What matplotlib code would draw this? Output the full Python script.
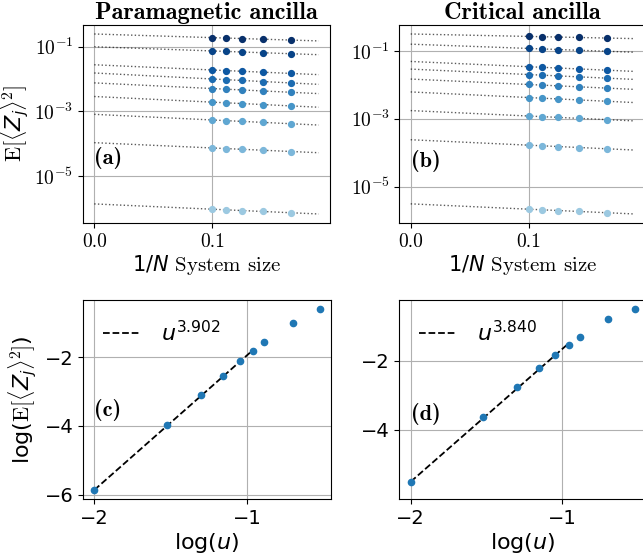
import matplotlib
matplotlib.use("Agg")
import matplotlib.pyplot as plt
import numpy as np

# system sizes N = 10, 9, 8, 7, 6
inv_N = np.array([1/10, 1/9, 1/8, 1/7, 1/6])
u_vals = np.array([0.01, 0.03, 0.05, 0.07, 0.09, 0.11, 0.13, 0.2, 0.3])

# log10 E[<Z_j>^2] per u (rows) and 1/N (columns)
para_log = np.array([
    [-6.018, -6.036, -6.059, -6.088, -6.127],
    [-4.128, -4.146, -4.169, -4.198, -4.237],
    [-3.264, -3.283, -3.308, -3.339, -3.380],
    [-2.714, -2.733, -2.758, -2.789, -2.830],
    [-2.294, -2.313, -2.338, -2.369, -2.410],
    [-1.999, -2.019, -2.045, -2.078, -2.122],
    [-1.721, -1.739, -1.761, -1.790, -1.828],
    [-1.134, -1.148, -1.166, -1.189, -1.220],
    [-0.723, -0.736, -0.751, -0.772, -0.798],
])
crit_log = np.array([
    [-5.668, -5.686, -5.708, -5.736, -5.773],
    [-3.780, -3.798, -3.820, -3.849, -3.887],
    [-2.920, -2.938, -2.960, -2.989, -3.027],
    [-2.375, -2.393, -2.416, -2.446, -2.485],
    [-1.990, -2.008, -2.030, -2.059, -2.097],
    [-1.696, -1.714, -1.736, -1.765, -1.803],
    [-1.465, -1.482, -1.504, -1.532, -1.568],
    [-0.926, -0.940, -0.958, -0.980, -1.010],
    [-0.572, -0.580, -0.590, -0.603, -0.620],
])

# extrapolated values (N -> inf) vs log(u)
para_ext = [-5.855, -3.965, -3.09, -2.54, -2.12, -1.815, -1.56, -1.005, -0.61]
crit_ext = [-5.51, -3.62, -2.76, -2.21, -1.83, -1.535, -1.31, -0.80, -0.50]
para_exp, para_icpt = 3.902, 1.949
crit_exp, crit_icpt = 3.840, 2.18
n_fit = 6

plt.rcParams['font.family'] = 'DejaVu Sans'
plt.rcParams['mathtext.fontset'] = 'dejavusans'
# 'custom' math set: serif roman E, sans italic symbols
plt.rcParams['mathtext.rm'] = 'cmr10'
plt.rcParams['mathtext.it'] = 'DejaVu Sans:italic'
plt.rcParams['mathtext.bf'] = 'DejaVu Sans:bold'
plt.rcParams['mathtext.fallback'] = 'cm'

colors = plt.cm.Blues(np.linspace(0.38, 1.0, 9))

fig = plt.figure(figsize=(6.43, 5.59), dpi=100)
ax_a = fig.add_axes([0.1291, 0.6011, 0.3841, 0.3542])
ax_b = fig.add_axes([0.6213, 0.6011, 0.3834, 0.3542])
ax_c = fig.add_axes([0.1291, 0.1073, 0.3857, 0.3560])
ax_d = fig.add_axes([0.6213, 0.1073, 0.3834, 0.3560])


def top_panel(ax, data, title, letter, letter_y):
    xx = np.linspace(0, 0.19, 50)
    for i in range(len(data)):
        m, b = np.polyfit(inv_N, data[i], 1)
        ax.plot(xx, 10**(b + m*xx), ls=':', color='k', lw=1, alpha=0.65, zorder=2)
        ax.plot(inv_N, 10**data[i], 'o', color=colors[i], ms=4.2, zorder=3)
    ax.set_yscale('log')
    ax.set_xticks([0.0, 0.1])
    ax.set_xticklabels(['0.0', '0.1'])
    ax.set_yticks([1e-1, 1e-3, 1e-5])
    ax.yaxis.set_minor_locator(matplotlib.ticker.NullLocator())
    ax.set_yticklabels([r'$10^{-1}$', r'$10^{-3}$', r'$10^{-5}$'])
    for lab in ax.get_xticklabels() + ax.get_yticklabels():
        lab.set_fontfamily('cmr10')
        lab.set_math_fontfamily('cm')
        lab.set_fontsize(14)
    ax.grid(True, color='#b0b0b0', lw=0.8)
    ax.set_title(title, fontfamily='cmb10', fontsize=17.5, pad=4)
    ax.set_xlabel(r'$1/N$' + ' System size', fontfamily='cmr10',
                  fontsize=15, labelpad=2)
    ax.text(0.0, letter_y, letter, fontfamily='cmb10', fontsize=16,
            va='center', ha='left', zorder=4)


def bottom_panel(ax, ext, expo, icpt, letter):
    lu = np.log10(u_vals)
    ax.plot(lu, ext, 'o', color='#1f77b4', ms=4.5, zorder=3)
    xf = np.array([lu[0], lu[n_fit - 1]])
    ax.plot(xf, expo*xf + icpt, 'k--', lw=1.3, zorder=2,
            label=r'$u^{%.3f}$' % expo)
    ax.set_xticks([-2, -1])
    ax.set_yticks([-2, -4, -6])
    ax.tick_params(labelsize=14)
    ax.grid(True, color='#b0b0b0', lw=0.8)
    ax.set_xlabel(r'$\log(u)$', fontsize=16, labelpad=2)
    ax.legend(loc='upper left', frameon=False, fontsize=16,
              handlelength=1.7, handletextpad=0.9)
    ax.text(-2.0, -3.55, letter, fontfamily='cmb10', fontsize=16,
            va='center', ha='left', zorder=4)


top_panel(ax_a, para_log, 'Paramagnetic ancilla', '(a)', 10**-4.45)
top_panel(ax_b, crit_log, 'Critical ancilla', '(b)', 10**-4.25)
yl = ax_a.set_ylabel(r'$\mathrm{E}[\langle Z_j\rangle^2]$', fontsize=16, labelpad=2)
yl.set_math_fontfamily('custom')

bottom_panel(ax_c, para_ext, para_exp, para_icpt, '(c)')
bottom_panel(ax_d, crit_ext, crit_exp, crit_icpt, '(d)')
ax_d.set_yticks([-2, -4])
yl = ax_c.set_ylabel(r'log($\mathrm{E}[\langle Z_j\rangle^2]$)', fontsize=16, labelpad=4)
yl.set_math_fontfamily('custom')

fig.savefig('out.png', dpi=100)
